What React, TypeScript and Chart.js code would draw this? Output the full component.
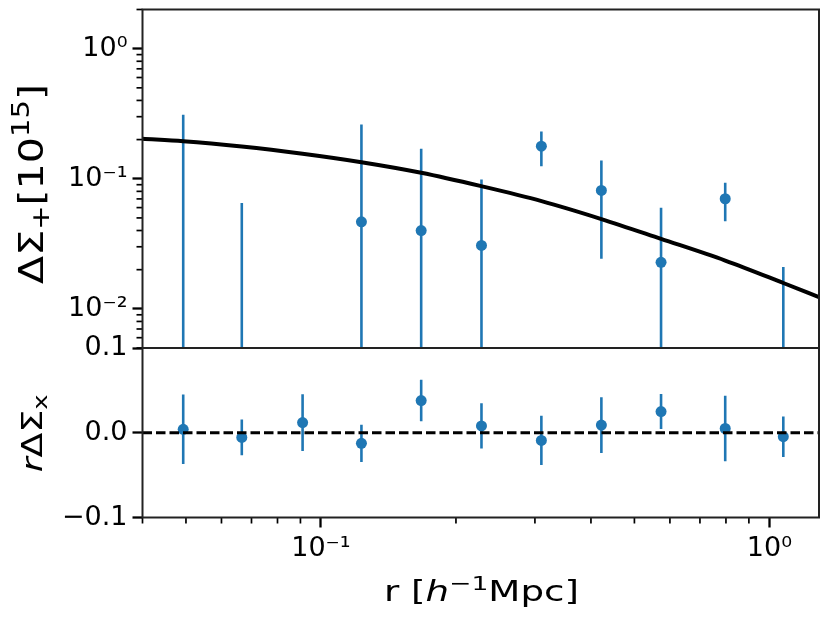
import React, { useEffect, useRef } from "react";
import Chart from "chart.js/auto";

// radial bins [h^-1 Mpc]
const radius = [0.0493, 0.0666, 0.091, 0.1231, 0.1673, 0.228, 0.3101, 0.422, 0.5733, 0.797, 1.074];

// tangential shear profile (values <= 0 are not visible on the log axis)
const sigmaPlus = [-0.01, -0.02, -0.05, 0.0467, 0.04, 0.0307, 0.178, 0.0813, 0.0228, 0.0702, -0.01];
const sigmaPlusErr = [0.32, 0.085, 0.04, 0.215, 0.13, 0.068, 0.053, 0.057, 0.037, 0.023, 0.031];

// cross component times r
const sigmaCross = [0.004, -0.0055, 0.012, -0.0125, 0.038, 0.008, -0.009, 0.009, 0.025, 0.005, -0.0047];
const sigmaCrossErr = [0.041, 0.021, 0.0335, 0.022, 0.0245, 0.0267, 0.029, 0.033, 0.0207, 0.0387, 0.024];

// model curve
const modelR = [0.04, 0.0493, 0.0666, 0.091, 0.1231, 0.1673, 0.2277, 0.3104, 0.422, 0.5733, 0.797, 1.074, 1.29];
const modelSigma = [0.203, 0.1946, 0.177, 0.1557, 0.134, 0.1112, 0.0877, 0.0673, 0.049, 0.0345, 0.0235, 0.0158, 0.0123];

// axes
const xMin = 0.04;
const xMax = 1.29;
const xTicks = [0.1, 1];
const xTickLabels = ["10⁻¹", "10⁰"];
const xMinorTicks = [0.04, 0.05, 0.06, 0.07, 0.08, 0.09, 0.2, 0.3, 0.4, 0.5, 0.6, 0.7, 0.8, 0.9];

const yTopMin = 0.005;
const yTopMax = 2;
const yTopTicks = [0.01, 0.1, 1];
const yTopTickLabels = ["10⁻²", "10⁻¹", "10⁰"];
const yTopMinorTicks = [
  0.005, 0.006, 0.007, 0.008, 0.009,
  0.02, 0.03, 0.04, 0.05, 0.06, 0.07, 0.08, 0.09,
  0.2, 0.3, 0.4, 0.5, 0.6, 0.7, 0.8, 0.9, 2,
];

const yBottomTicks = [-0.1, 0, 0.1];
const yBottomTickLabels = ["−0.1", "0.0", "0.1"];

const BLUE = "#1f77b4";
const FAMILY = "DejaVu Sans";
const tickFont = { family: FAMILY, size: 27 };

type Seg = { text: string; size: number; italic?: boolean; rise?: number };

// draw a run of mixed-size text, centred on (cx, cy) at the baseline
function drawRich(ctx: CanvasRenderingContext2D, segs: Seg[], cx: number, cy: number, angle: number, target: number) {
  const fontOf = (s: Seg) => `${s.italic ? "italic " : ""}${s.size}px "${FAMILY}"`;
  ctx.save();
  const widths = segs.map((s) => {
    ctx.font = fontOf(s);
    return ctx.measureText(s.text).width;
  });
  const total = widths.reduce((a, b) => a + b, 0);
  ctx.translate(cx, cy);
  ctx.rotate(angle);
  ctx.scale(target / total, 1);
  ctx.fillStyle = "#000";
  ctx.textBaseline = "alphabetic";
  ctx.textAlign = "left";
  let x = -total / 2;
  segs.forEach((s, i) => {
    ctx.font = fontOf(s);
    ctx.fillText(s.text, x, -(s.rise || 0));
    x += widths[i];
  });
  ctx.restore();
}

const panelPlugin = (
  vals: number[],
  errs: number[],
  minorX: number[],
  minorY: number[],
  titles: (ctx: CanvasRenderingContext2D) => void
) => ({
  id: "panel",
  beforeDatasetsDraw(chart: any) {
    const { ctx, chartArea: a, scales } = chart;
    const x = scales.x;
    const y = scales.y;
    const isLog = y.type === "logarithmic";
    ctx.save();
    ctx.beginPath();
    ctx.rect(a.left, a.top, a.right - a.left, a.bottom - a.top);
    ctx.clip();
    ctx.strokeStyle = BLUE;
    ctx.lineWidth = 2.6;
    radius.forEach((r, i) => {
      const hi = vals[i] + errs[i];
      const lo = vals[i] - errs[i];
      if (isLog && hi <= 0) return;
      const px = x.getPixelForValue(r);
      const pHi = y.getPixelForValue(hi);
      const pLo = isLog && lo <= 0 ? a.bottom + 5 : y.getPixelForValue(lo);
      ctx.beginPath();
      ctx.moveTo(px, pLo);
      ctx.lineTo(px, pHi);
      ctx.stroke();
    });
    ctx.restore();
  },
  afterDraw(chart: any) {
    const { ctx, chartArea: a, scales } = chart;
    ctx.save();
    ctx.strokeStyle = "#000";
    ctx.lineWidth = 1.7;
    minorY.forEach((v) => {
      const py = scales.y.getPixelForValue(v);
      ctx.beginPath();
      ctx.moveTo(a.left - 6, py);
      ctx.lineTo(a.left, py);
      ctx.stroke();
    });
    minorX.forEach((v) => {
      const px = scales.x.getPixelForValue(v);
      ctx.beginPath();
      ctx.moveTo(px, a.bottom);
      ctx.lineTo(px, a.bottom + 6);
      ctx.stroke();
    });
    ctx.strokeStyle = "#222";
    ctx.lineWidth = 2;
    ctx.strokeRect(a.left, a.top, a.right - a.left, a.bottom - a.top);
    titles(ctx);
    ctx.restore();
  },
});

const tickGrid = {
  drawOnChartArea: false,
  tickLength: 10,
  tickWidth: 2.3,
  tickColor: "#000",
};

// fixed axis boxes, so both panels line up exactly
const fixWidth = (w: number) => (s: any) => {
  s.width = w;
  s.paddingTop = 0;
  s.paddingBottom = 0;
};
const fixHeight = (h: number) => (s: any) => {
  s.height = h;
  s.paddingLeft = 0;
  s.paddingRight = 0;
};

const App = () => {
  const topRef = useRef<HTMLCanvasElement | null>(null);
  const bottomRef = useRef<HTMLCanvasElement | null>(null);

  useEffect(() => {
    if (!topRef.current || !bottomRef.current) return;

    const topChart = new Chart(topRef.current, {
      type: "scatter",
      data: {
        datasets: [
          {
            type: "line",
            label: "model",
            data: modelR.map((r, i) => ({ x: r, y: modelSigma[i] })),
            borderColor: "#000",
            borderWidth: 4,
            pointRadius: 0,
            fill: false,
            cubicInterpolationMode: "monotone",
            order: 1,
          },
          {
            label: "ΔΣ+",
            data: radius.map((r, i) => ({ x: r, y: sigmaPlus[i] > 0 ? sigmaPlus[i] : null })),
            backgroundColor: BLUE,
            borderColor: BLUE,
            borderWidth: 0,
            pointRadius: 5.5,
            order: 2,
          },
        ],
      },
      options: {
        responsive: false,
        animation: false,
        layout: { padding: { left: 0, right: 11, top: 9.5, bottom: 274 } },
        plugins: { legend: { display: false }, tooltip: { enabled: false } },
        scales: {
          x: { type: "logarithmic", min: xMin, max: xMax, display: false },
          y: {
            type: "logarithmic",
            min: yTopMin,
            max: yTopMax,
            afterFit: fixWidth(142.5),
            afterBuildTicks: (s: any) => {
              s.ticks = yTopTicks.map((v) => ({ value: v }));
            },
            ticks: {
              callback: (_v: any, i: number) => yTopTickLabels[i],
              font: tickFont,
              color: "#000",
              padding: 5,
              autoSkip: false,
            },
            grid: tickGrid,
            border: { display: false },
          },
        },
      },
      plugins: [
        panelPlugin(sigmaPlus, sigmaPlusErr, [], yTopMinorTicks, (ctx) => {
          drawRich(
            ctx,
            [
              { text: "ΔΣ", size: 34 },
              { text: "+", size: 24, rise: -6 },
              { text: "[10", size: 34 },
              { text: "15", size: 24, rise: 14 },
              { text: "]", size: 34 },
            ],
            42.5,
            184,
            -Math.PI / 2,
            200
          );
        }),
      ],
    } as any);

    const bottomChart = new Chart(bottomRef.current, {
      type: "scatter",
      data: {
        datasets: [
          {
            type: "line",
            label: "zero",
            data: [
              { x: xMin, y: 0 },
              { x: xMax, y: 0 },
            ],
            borderColor: "#000",
            borderWidth: 3,
            borderDash: [9.5, 4],
            pointRadius: 0,
            fill: false,
            order: 1,
          },
          {
            label: "rΔΣx",
            data: radius.map((r, i) => ({ x: r, y: sigmaCross[i] })),
            backgroundColor: BLUE,
            borderColor: BLUE,
            borderWidth: 0,
            pointRadius: 5.5,
            order: 2,
          },
        ],
      },
      options: {
        responsive: false,
        animation: false,
        layout: { padding: { left: 0, right: 11, top: 348, bottom: 0 } },
        plugins: { legend: { display: false }, tooltip: { enabled: false } },
        scales: {
          x: {
            type: "logarithmic",
            min: xMin,
            max: xMax,
            position: "bottom",
            afterFit: fixHeight(104.5),
            afterBuildTicks: (s: any) => {
              s.ticks = xTicks.map((v) => ({ value: v }));
            },
            ticks: {
              callback: (_v: any, i: number) => xTickLabels[i],
              font: tickFont,
              color: "#000",
              padding: 5,
              autoSkip: false,
              maxRotation: 0,
              minRotation: 0,
            },
            grid: tickGrid,
            border: { display: false },
          },
          y: {
            type: "linear",
            min: -0.1,
            max: 0.1,
            afterFit: fixWidth(142.5),
            afterBuildTicks: (s: any) => {
              s.ticks = yBottomTicks.map((v) => ({ value: v }));
            },
            ticks: {
              callback: (_v: any, i: number) => yBottomTickLabels[i],
              font: tickFont,
              color: "#000",
              padding: 5,
              autoSkip: false,
            },
            grid: tickGrid,
            border: { display: false },
          },
        },
      },
      plugins: [
        panelPlugin(sigmaCross, sigmaCrossErr, xMinorTicks, [], (ctx) => {
          drawRich(
            ctx,
            [
              { text: "r", size: 28, italic: true },
              { text: "ΔΣ", size: 28 },
              { text: "x", size: 20, rise: -5 },
            ],
            41.7,
            433.3,
            -Math.PI / 2,
            78
          );
          drawRich(
            ctx,
            [
              { text: "r [", size: 28 },
              { text: "h", size: 28, italic: true },
              { text: "−1", size: 20, rise: 11 },
              { text: "Mpc]", size: 28 },
            ],
            481.5,
            600.5,
            0,
            195
          );
        }),
      ],
    } as any);

    return () => {
      topChart.destroy();
      bottomChart.destroy();
    };
  }, []);

  const canvasStyle: React.CSSProperties = { position: "absolute", left: 0, top: 0 };

  return (
    <div style={{ position: "absolute", left: 0, top: 0, width: 830, height: 622, background: "#fff" }}>
      <canvas ref={topRef} width={830} height={622} style={canvasStyle} />
      <canvas ref={bottomRef} width={830} height={622} style={canvasStyle} />
    </div>
  );
};

export default App;
